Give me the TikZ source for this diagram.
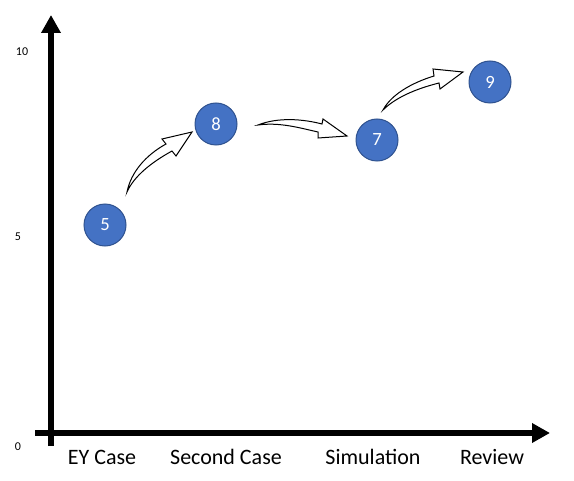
\documentclass[tikz,border=0pt]{standalone}
\usepackage{fontspec}
\setmainfont{Carlito}
\usetikzlibrary{arrows.meta}
\definecolor{scoreblue}{HTML}{4472C4}
\definecolor{scoreedge}{HTML}{2F528F}

\begin{document}
\begin{tikzpicture}[x=0.75pt, y=-0.75pt,
    axis/.style={line width=4.5pt, -{Triangle[length=13.5pt, width=14pt]}},
    score/.style={circle, draw=scoreedge, fill=scoreblue, line width=0.75pt, minimum size=31.5pt, inner sep=0pt, text=white, font=\fontsize{14}{16}\selectfont},
    stage/.style={font=\fontsize{16.5}{20}\selectfont},
    tick/.style={font=\fontsize{9}{10}\selectfont},
    curvearrow/.style={draw, fill=white, line width=0.75pt, line join=miter}]
    \useasboundingbox (0,0) rectangle (574,481);

    % Axes
    \coordinate (ytop) at (51,15);
    \coordinate (ybot) at (51,446);
    \coordinate (xstart) at (35,433);
    \coordinate (xend) at (550,433);
    \draw [axis] (ybot) -- (ytop);
    \draw [axis] (xstart) -- (xend);

    % Nodes
    \node (eycase) [score] at (105,225) {5};
    \node (second) [score] at (216,124) {8};
    \node (simul)  [score] at (377,140) {7};
    \node (review) [score] at (490,82)  {9};

    % Arrows
    \draw [curvearrow] (127,192) .. controls (131,172) and (146,155) .. (166,144)
        -- (162,139) -- (192,132) -- (176,156) -- (172,151)
        .. controls (152,162) and (134,176) .. (127,192) -- cycle;
    \draw [curvearrow] (258,125) .. controls (278,117) and (303,119) .. (322,124)
        -- (323,119) -- (347,136) -- (318,138) -- (318,132)
        .. controls (300,128) and (280,122) .. (258,125) -- cycle;
    \draw [curvearrow] (383,110) .. controls (391,95) and (411,83) .. (434,76)
        -- (433,69) -- (463,72) -- (440,89) -- (439,83)
        .. controls (415,89) and (395,98) .. (383,110) -- cycle;

    % Labels
    \node (t0)  [tick] at (18,447) {0};
    \node (t5)  [tick] at (18,237) {5};
    \node (t10) [tick] at (22,52)  {10};
    \node (leycase) [stage] at (102,457) {EY Case};
    \node (lsecond) [stage] at (226,457) {Second Case};
    \node (lsimul)  [stage] at (373,457) {Simulation};
    \node (lreview) [stage] at (492,457) {Review};
\end{tikzpicture}
\end{document}
